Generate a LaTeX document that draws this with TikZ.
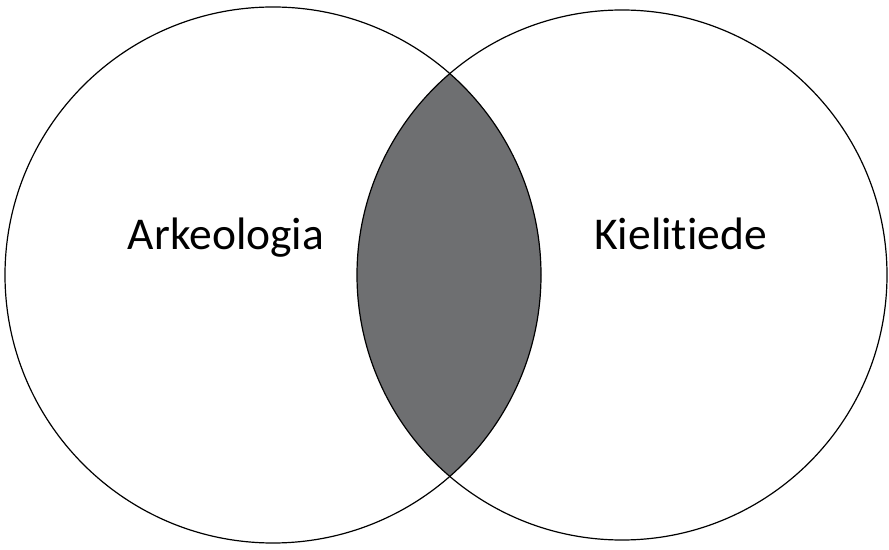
\documentclass[tikz,border=0pt]{standalone}
\usepackage{fontspec}
\setmainfont{Carlito}[RawFeature=-liga]
\definecolor{lensgray}{HTML}{6E6F71}
\begin{document}
\begin{tikzpicture}[x=1pt,y=1pt,
  ring/.style={draw=black,line width=1.2pt},
  label/.style={font=\fontsize{45.5}{50}\selectfont,anchor=base,inner sep=0pt}]
\useasboundingbox (0,0) rectangle (889,549);
\coordinate (cl) at (273,274);
\coordinate (cr) at (622,274);
\begin{scope}
  \clip (cl) circle[radius=268];
  \fill[lensgray] (cr) circle[radius=265];
\end{scope}
\draw[ring] (cl) circle[radius=268];
\draw[ring] (cr) circle[radius=265];
\node[label] (a) at (226,299) {Arkeologia};
\node[label] (k) at (680.5,299) {Kielitiede};
\end{tikzpicture}
\end{document}
